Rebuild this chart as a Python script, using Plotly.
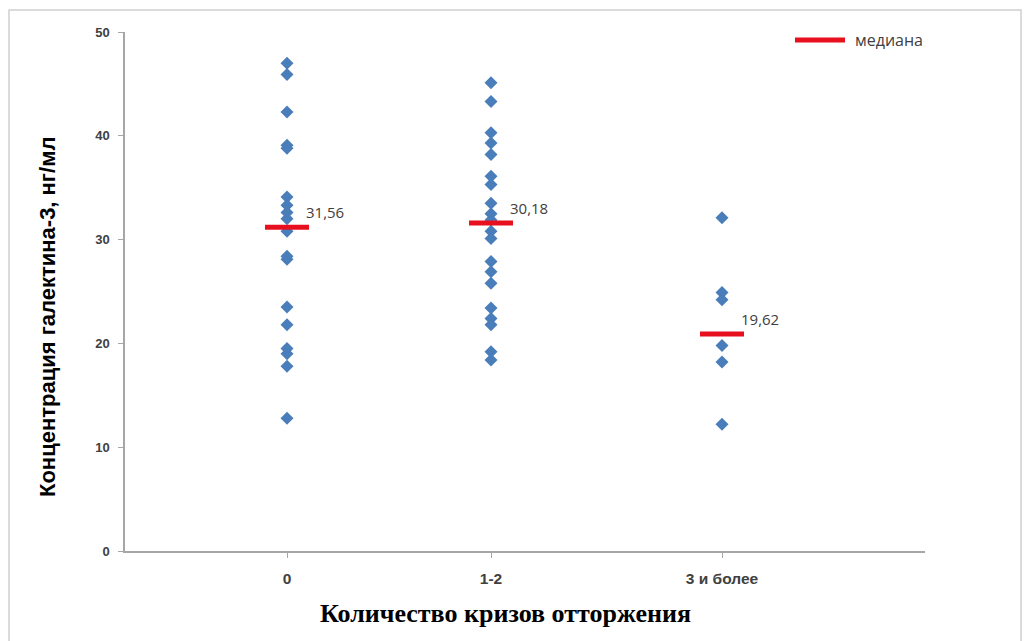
import plotly.graph_objects as go

# ---- data ----
categories = ["0", "1-2", "3 и более"]
cat_pos = [0.81, 1.83, 2.985]   # positions of the categories on the x axis

group_0 = [47.0, 45.9, 42.3, 39.1, 38.8, 34.1, 33.3, 32.6, 32.0, 30.8,
           28.4, 28.1, 23.5, 21.8, 19.5, 19.0, 17.8, 12.8]
group_1_2 = [45.1, 43.3, 40.3, 39.3, 38.2, 36.1, 35.3, 33.5, 32.5, 31.9,
             30.8, 30.1, 27.9, 26.9, 25.8, 23.4, 22.4, 21.8, 19.2, 18.4]
group_3plus = [32.1, 24.9, 24.2, 19.8, 18.2, 12.2]
groups = [group_0, group_1_2, group_3plus]

median_level = [31.2, 31.6, 20.9]
median_labels = ["31,56", "30,18", "19,62"]

y_ticks = [0, 10, 20, 30, 40, 50]

BLUE = "#4A7EBB"
RED = "#E8101E"
half_len = 0.11

# plot area in screen pixels (page has an 8px body margin)
PL, PR, PT, PB = 125, 925, 32, 551
PW, PH = PR - PL, PB - PT


def px(x):
    return (x - PL) / PW


def py(y):
    return (PB - y) / PH


fig = go.Figure()

for pos, vals in zip(cat_pos, groups):
    fig.add_trace(go.Scatter(
        x=[pos] * len(vals), y=vals, mode="markers",
        marker=dict(symbol="diamond", size=10, color=BLUE),
        showlegend=False, hoverinfo="y"))

# median bars
mx, my = [], []
for pos, m in zip(cat_pos, median_level):
    mx += [pos - half_len, pos + half_len, None]
    my += [m, m, None]
fig.add_trace(go.Scatter(x=mx, y=my, mode="lines",
                         line=dict(color=RED, width=5),
                         name="медиана", showlegend=False))

# median labels
for pos, m, lab in zip(cat_pos, median_level, median_labels):
    fig.add_annotation(x=pos + 0.085, y=m, text=lab, showarrow=False,
                       xanchor="left", yanchor="bottom", yshift=3,
                       font=dict(family="Open Sans", size=15, color="#404040"))

fig.update_layout(
    width=1030, height=641,
    margin=dict(l=PL - 8, r=1030 + 8 - PR, t=PT - 8, b=641 + 8 - PB),
    paper_bgcolor="white", plot_bgcolor="white",
    showlegend=False,
    xaxis=dict(range=[0, 4], tickvals=cat_pos,
               ticktext=[f"<b>{c}</b>" for c in categories],
               showgrid=False, zeroline=False, showline=True,
               linecolor="#a6a6a6", linewidth=1.5,
               ticks="outside", ticklen=5, tickcolor="#a6a6a6",
               ticklabelstandoff=8,
               tickfont=dict(family="Liberation Sans", size=15.5, color="#404040")),
    yaxis=dict(range=[0, 50], tickvals=y_ticks,
               ticktext=[f"<b>{t}</b>" for t in y_ticks],
               showgrid=False, zeroline=False, showline=True,
               linecolor="#a6a6a6", linewidth=1.5,
               ticks="outside", ticklen=5, tickcolor="#a6a6a6",
               ticklabelstandoff=6,
               tickfont=dict(family="Liberation Sans", size=13, color="#404040")),
)

# axis titles
fig.add_annotation(xref="paper", yref="paper", x=px(505), y=py(613),
                   text="<b>Количество кризов отторжения</b>", showarrow=False,
                   xanchor="center", yanchor="middle",
                   font=dict(family="Liberation Serif", size=26, color="black"))
fig.add_annotation(xref="paper", yref="paper", x=px(47), y=py(317),
                   text="<b>Концентрация галектина-3, нг/мл</b>", showarrow=False,
                   textangle=-90, xanchor="center", yanchor="middle",
                   font=dict(family="Liberation Sans", size=22, color="black"))

# manual legend
fig.add_shape(type="line", xref="paper", yref="paper",
              x0=px(795), x1=px(845), y0=py(40), y1=py(40),
              line=dict(color=RED, width=5))
fig.add_annotation(xref="paper", yref="paper", x=px(853), y=py(40),
                   text="медиана", showarrow=False,
                   xanchor="left", yanchor="middle",
                   font=dict(family="Open Sans", size=16, color="#404040"))

# outer chart border
fig.add_shape(type="rect", xref="paper", yref="paper",
              x0=px(9), x1=px(1021), y0=py(700), y1=py(10),
              line=dict(color="#d0d0d0", width=1.5), layer="below")

fig.write_html("out.html")
